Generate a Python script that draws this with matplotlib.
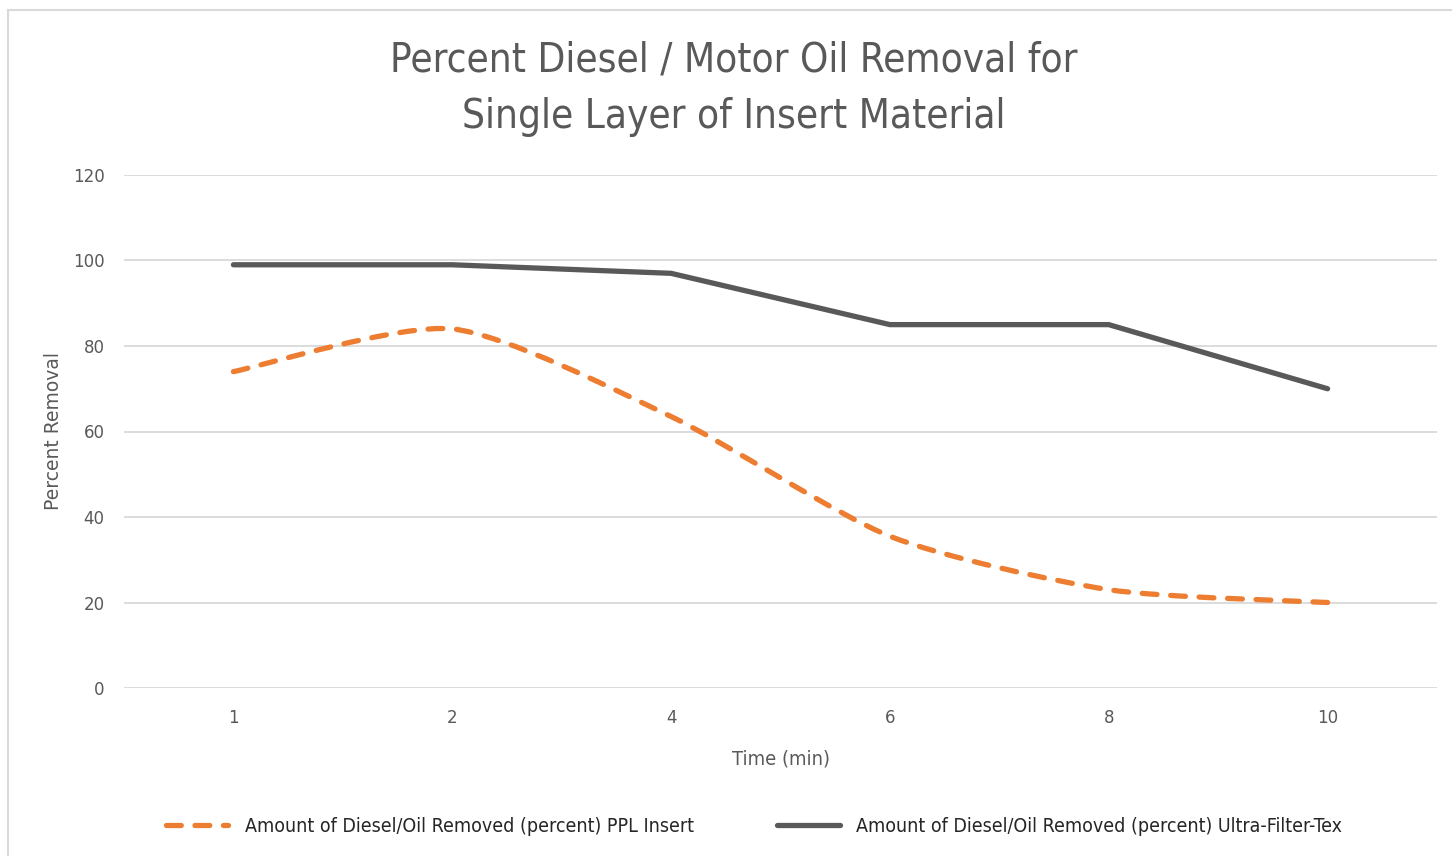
"""Percent diesel / motor oil removal, single layer of insert material."""
import numpy as np
import matplotlib
matplotlib.use("Agg")
import matplotlib.pyplot as plt
from matplotlib.path import Path
from matplotlib.patches import PathPatch, Rectangle
from matplotlib.lines import Line2D
from matplotlib.font_manager import FontProperties

times = ["1", "2", "4", "6", "8", "10"]
ppl_insert = [74, 84, 63.5, 35.5, 23, 20]
ultra_filter_tex = [99, 99, 97, 85, 85, 70]
yticks = [0, 20, 40, 60, 80, 100, 120]

ORANGE = "#ed7d31"
GRAY = "#595959"
GRID = "#d9d9d9"
DASH = (0, (2.8, 2.6))


def narrow(size):
    return FontProperties(family="DejaVu Sans", stretch="condensed", size=size)


def smooth_path(xs, ys, k=0.12):
    # excel-style smoothed line: cubic bezier through every point
    pts = np.column_stack([xs, ys]).astype(float)
    n = len(pts)
    verts = [pts[0]]
    codes = [Path.MOVETO]
    for i in range(n - 1):
        p0 = pts[i - 1] if i > 0 else pts[i]
        p1, p2 = pts[i], pts[i + 1]
        p3 = pts[i + 2] if i + 2 < n else pts[i + 1]
        verts += [p1 + (p2 - p0) * k, p2 - (p3 - p1) * k, p2]
        codes += [Path.CURVE4] * 3
    return Path(verts, codes)


fig = plt.figure(figsize=(14.52, 8.56), dpi=100)
ax = fig.add_axes([124 / 1452, 1 - 688 / 856, (1437 - 124) / 1452, (688 - 175) / 856])

fig.patches.append(Rectangle((8 / 1452, -0.1), 1.2, 1 - 10 / 856 + 0.1,
                             transform=fig.transFigure, fill=False,
                             edgecolor=GRID, lw=1.5))

x = np.arange(len(times))
lw = 3.8
ax.plot(x, ultra_filter_tex, color=GRAY, lw=lw, solid_capstyle="round",
        solid_joinstyle="round", zorder=3)
patch = PathPatch(smooth_path(x, ppl_insert), fill=False, edgecolor=ORANGE,
                  lw=lw, linestyle=DASH, capstyle="round", zorder=3)
ax.add_patch(patch)

ax.set_xlim(-0.5, len(times) - 0.5)
ax.set_ylim(0, 120)
ax.set_yticks(yticks)
ax.set_xticks(x)
ax.set_xticklabels(times)
ax.grid(axis="y", color=GRID, lw=1.3)
ax.set_axisbelow(True)
for s in ax.spines.values():
    s.set_visible(False)
ax.tick_params(length=0, labelsize=12, labelcolor=GRAY)
ax.tick_params(axis="y", pad=14)
ax.tick_params(axis="x", pad=15)
ax.set_ylabel("Percent Removal", fontsize=13.5, color=GRAY, labelpad=7)
ax.set_xlabel("Time (min)", fontproperties=narrow(14.5), color=GRAY, labelpad=16)

fig.text(0.505, 1 - 89 / 856, "Percent Diesel / Motor Oil Removal for\nSingle Layer of Insert Material",
         ha="center", va="center", fontproperties=narrow(29), color=GRAY,
         linespacing=1.52)

handles = [
    Line2D([], [], color=ORANGE, lw=lw, linestyle=DASH, dash_capstyle="round"),
    Line2D([], [], color=GRAY, lw=lw, solid_capstyle="round"),
]
labels = ["Amount of Diesel/Oil Removed (percent) PPL Insert",
          "Amount of Diesel/Oil Removed (percent) Ultra-Filter-Tex"]
fig.legend(handles, labels, loc="center", bbox_to_anchor=(754 / 1452, 1 - 826 / 856),
           ncol=2, frameon=False, handlelength=3.2, handletextpad=0.85,
           columnspacing=4.3, prop=narrow(14), labelcolor="#262626")

fig.savefig("out.png", dpi=100)
